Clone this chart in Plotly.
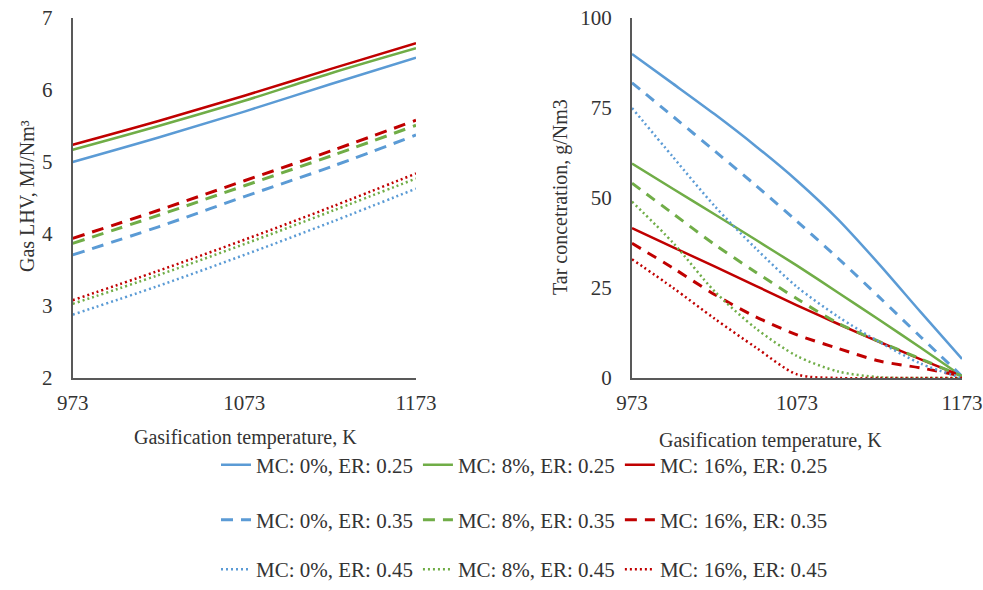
import plotly.graph_objects as go

# ---------------- data ----------------
temps_left = [973, 1023, 1073, 1123, 1173]
temps_right = [973, 998, 1023, 1048, 1073, 1098, 1123, 1148, 1173]

series_names = [
    "MC: 0%, ER: 0.25", "MC: 8%, ER: 0.25", "MC: 16%, ER: 0.25",
    "MC: 0%, ER: 0.35", "MC: 8%, ER: 0.35", "MC: 16%, ER: 0.35",
    "MC: 0%, ER: 0.45", "MC: 8%, ER: 0.45", "MC: 16%, ER: 0.45",
]

lhv_mc0_er25 = [5.00, 5.34, 5.70, 6.08, 6.45]
lhv_mc8_er25 = [5.17, 5.50, 5.85, 6.23, 6.58]
lhv_mc16_er25 = [5.24, 5.57, 5.92, 6.29, 6.65]
lhv_mc0_er35 = [3.71, 4.10, 4.52, 4.93, 5.375]
lhv_mc8_er35 = [3.87, 4.26, 4.67, 5.08, 5.51]
lhv_mc16_er35 = [3.94, 4.33, 4.74, 5.15, 5.58]
lhv_mc0_er45 = [2.88, 3.28, 3.71, 4.16, 4.63]
lhv_mc8_er45 = [3.03, 3.43, 3.86, 4.31, 4.77]
lhv_mc16_er45 = [3.08, 3.49, 3.92, 4.37, 4.84]

tar_mc0_er25 = [90.0, 81.7, 73.3, 64.4, 54.8, 44.0, 31.5, 18.3, 5.3]
tar_mc8_er25 = [59.6, 52.5, 45.5, 38.4, 31.2, 23.7, 16.1, 8.4, 0.5]
tar_mc16_er25 = [41.6, 36.3, 31.0, 25.6, 20.2, 15.0, 10.0, 5.2, 0.5]
tar_mc0_er35 = [82.0, 72.6, 63.1, 53.5, 43.5, 33.2, 22.4, 11.4, 0.5]
tar_mc8_er35 = [54.1, 45.6, 37.1, 29.4, 22.0, 15.2, 10.1, 5.3, 0.5]
tar_mc16_er35 = [37.4, 30.5, 23.2, 17.0, 12.0, 8.2, 4.7, 2.8, 0.5]
tar_mc0_er45 = [75.0, 61.3, 47.8, 36.0, 25.3, 17.0, 10.0, 4.0, 0.0]
tar_mc8_er45 = [49.0, 37.5, 24.1, 13.8, 6.1, 1.8, 0.2, 0.0, 0.0]
tar_mc16_er45 = [33.0, 25.0, 16.5, 8.5, 1.0, 0.0, 0.0, 0.0, 0.0]

x_ticks = [973, 1073, 1173]
lhv_ticks = [2, 3, 4, 5, 6, 7]
tar_ticks = [0, 25, 50, 75, 100]

# ---------------- styles ----------------
BLUE, GREEN, RED = "#5B9BD5", "#70AD47", "#C00000"
colors = [BLUE, GREEN, RED] * 3
FONT = "Liberation Serif, Times New Roman, serif"
TXT = "#333333"

lhv_data = [lhv_mc0_er25, lhv_mc8_er25, lhv_mc16_er25,
            lhv_mc0_er35, lhv_mc8_er35, lhv_mc16_er35,
            lhv_mc0_er45, lhv_mc8_er45, lhv_mc16_er45]
tar_data = [tar_mc0_er25, tar_mc8_er25, tar_mc16_er25,
            tar_mc0_er35, tar_mc8_er35, tar_mc16_er35,
            tar_mc0_er45, tar_mc8_er45, tar_mc16_er45]

left_dash = ["solid", "12px,8px", "2px,3px"]
right_dash = ["solid", "10px,8px", "2px,3px"]
widths = [2.5, 3, 2.5]
legends = ["legend", "legend2", "legend3"]

fig = go.Figure()
for i, name in enumerate(series_names):
    g = i // 3
    fig.add_trace(go.Scatter(
        x=temps_left, y=lhv_data[i], mode="lines", name=name,
        line=dict(color=colors[i], width=widths[g], dash=left_dash[g], shape="spline"),
        xaxis="x", yaxis="y", legend=legends[g], showlegend=True,
    ))
for i, name in enumerate(series_names):
    g = i // 3
    fig.add_trace(go.Scatter(
        x=temps_right, y=tar_data[i], mode="lines", name=name,
        line=dict(color=colors[i], width=widths[g], dash=right_dash[g], shape="spline",
                  smoothing=0.8),
        xaxis="x2", yaxis="y2", showlegend=False,
    ))

W, H = 983, 590
ytop, ybot = 18, 378
ydom = [1 - ybot / H, 1 - ytop / H]

axis_common = dict(showline=True, linecolor="#595959", linewidth=2, showgrid=False,
                   zeroline=False, ticks="", automargin=False,
                   tickfont=dict(family=FONT, size=21, color=TXT))

fig.update_layout(
    width=W, height=H, margin=dict(l=0, r=0, t=0, b=0),
    paper_bgcolor="white", plot_bgcolor="white",
    font=dict(family=FONT, size=20, color=TXT),
    xaxis=dict(domain=[72.7 / W, 416 / W], range=[973, 1173], tickvals=x_ticks,
               anchor="y", ticklabelstandoff=5, **axis_common),
    yaxis=dict(domain=ydom, range=[2, 7], tickvals=lhv_ticks, anchor="x",
               ticklabelstandoff=14, **axis_common),
    xaxis2=dict(domain=[632 / W, 962 / W], range=[973, 1173], tickvals=x_ticks,
                anchor="y2", ticklabelstandoff=5, **axis_common),
    yaxis2=dict(domain=ydom, range=[0, 100], tickvals=tar_ticks, anchor="x2",
                ticklabelstandoff=14, **axis_common),
)

legend_pos = [(1 - 465 / H, "middle"), (1 - 520 / H, "middle"), (0.0, "bottom")]
for lg, (yy, ya) in zip(legends, legend_pos):
    fig.update_layout({lg: dict(orientation="h", x=216 / W, xanchor="left",
                                y=yy, yanchor=ya,
                                font=dict(family=FONT, size=21, color=TXT),
                                bgcolor="rgba(0,0,0,0)", tracegroupgap=0,
                                itemwidth=30)})

annots = [
    dict(text="Gasification temperature, K", x=245 / W, y=1 - 437 / H),
    dict(text="Gasification temperature, K", x=770 / W, y=1 - 440 / H),
    dict(text="Gas LHV, MJ/Nm³", x=27 / W, y=1 - 196 / H, textangle=-90),
    dict(text="Tar concetration, g/Nm3", x=561 / W, y=1 - 197 / H, textangle=-90),
]
for a in annots:
    fig.add_annotation(xref="paper", yref="paper", showarrow=False,
                       xanchor="center", yanchor="middle",
                       font=dict(family=FONT, size=20, color=TXT), **a)

fig.write_html("out.html", config={"displayModeBar": False},
               post_script="document.body.style.margin='0';document.body.style.overflow='hidden';")
